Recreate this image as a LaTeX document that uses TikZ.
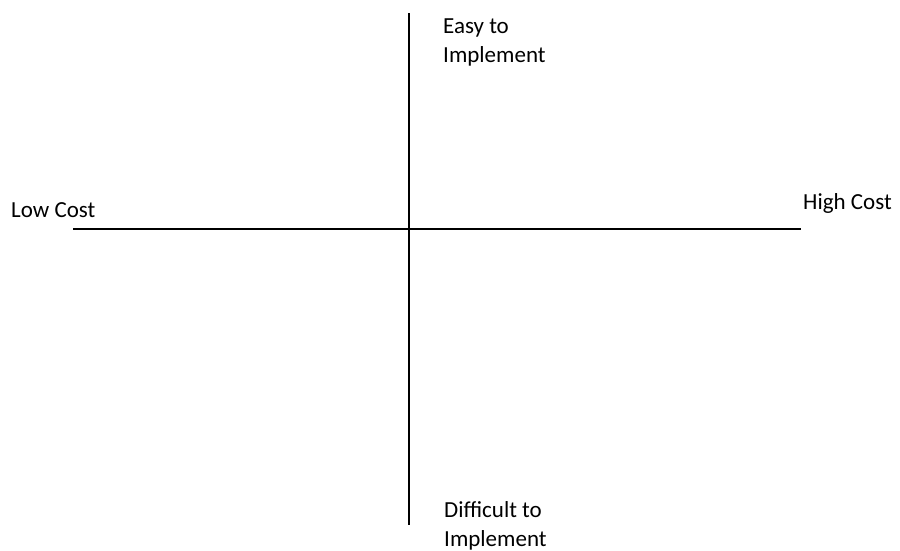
\documentclass[tikz,border=0pt]{standalone}
\usepackage{fontspec}
\setmainfont{Carlito}
\tikzset{
  axis/.style={line width=1.8pt, black},
  lbl/.style={inner sep=0pt, anchor=base west, align=left, font=\fontsize{23}{29}\selectfont}
}
\begin{document}
\begin{tikzpicture}[x=1pt,y=-1pt]
\useasboundingbox (0,0) rectangle (900,550);
\coordinate (top) at (409,13);
\coordinate (bot) at (409,525);
\coordinate (left) at (73,229);
\coordinate (right) at (801,229);
\draw[axis] (top) -- (bot);
\draw[axis] (left) -- (right);
\node[lbl] (easy) at (443,62) {Easy to\\Implement};
\node[lbl] (low) at (11,217) {Low Cost};
\node[lbl] (high) at (803,209) {High Cost};
\node[lbl] (diff) at (444,546) {Difficult to\\Implement};
\end{tikzpicture}
\end{document}
